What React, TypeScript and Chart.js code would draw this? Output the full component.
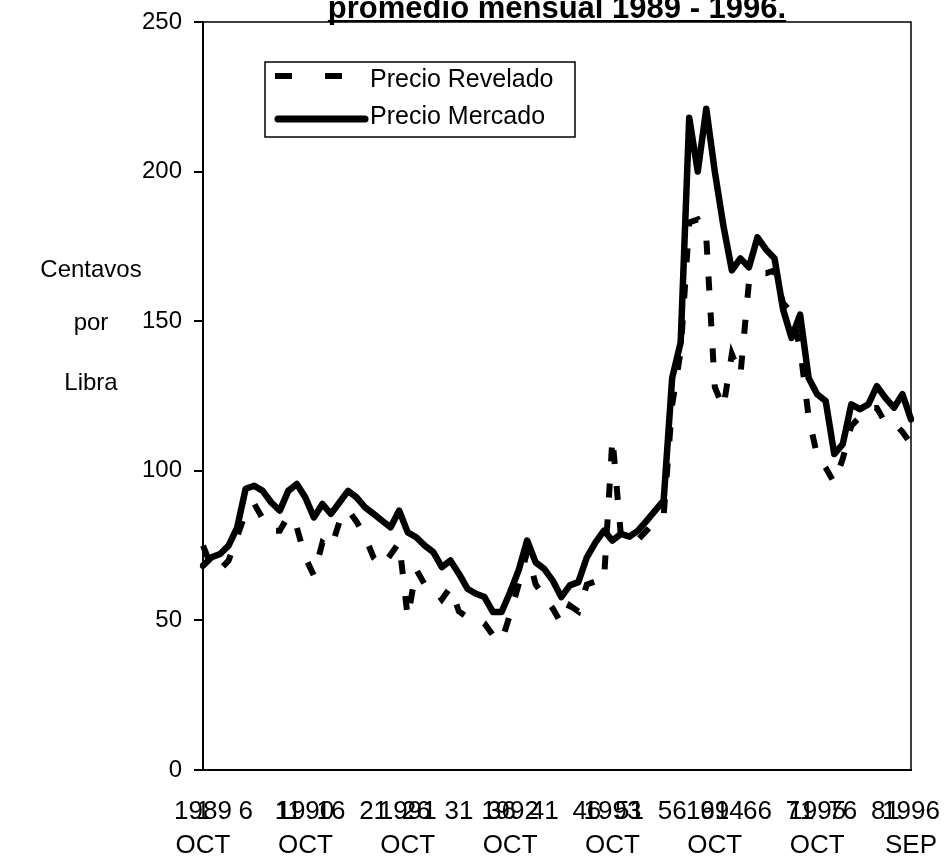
import React, { useEffect, useRef } from 'react';
import { Chart, registerables } from 'chart.js';

Chart.register(...registerables);

const FONT = '"Liberation Sans", Arial, Helvetica, sans-serif';

// Categories: monthly, Oct 1989 .. Sep 1996 (84 months)
const monthNames = ['OCT', 'NOV', 'DIC', 'ENE', 'FEB', 'MAR', 'ABR', 'MAY', 'JUN', 'JUL', 'AGO', 'SEP'];
const startYear = 1989;
const monthCount = 84;
const categories: string[] = Array.from({ length: monthCount }, (_, k) =>
  `${monthNames[k % 12]} ${startYear + Math.floor((k + 9) / 12)}`
);

// Tick labels on the category axis
const yearTickIndex = [0, 12, 24, 36, 48, 60, 72, 83];
const yearTickLabels = ['1989', '1990', '1991', '1992', '1993', '1994', '1995', '1996'];
const yearTickMonths = ['OCT', 'OCT', 'OCT', 'OCT', 'OCT', 'OCT', 'OCT', 'SEP'];
const numberTickIndex = [0, 5, 10, 15, 20, 25, 30, 35, 40, 45, 50, 55, 60, 65, 70, 75, 80];
const numberTickLabels = ['1', '6', '11', '16', '21', '26', '31', '36', '41', '46', '51', '56', '61', '66', '71', '76', '81'];

// Series (cents per pound)
const precioRevelado = [
  75, 68, 67, 70, 78, 86, 89, 84, 80, 80,
  85, 81, 71, 65, 76, 74, 83, 87, 83, 78,
  71, 68, 72, 76, 51, 67, 62, 61, 57, 61,
  53, 51, 51, 49, 45, 43, 52, 62, 73, 62,
  58, 54, 49, 55, 53, 62, 63, 63, 111, 78,
  76, 77, 80, 83, 85, 122, 140, 183, 184, 178,
  128, 121, 139, 132, 163, 166, 166, 167, 156, 153,
  141, 118, 105, 101, 96, 104, 115, 118, 121, 121,
  116, 116, 113, 109,
];
const precioMercado = [
  68.3, 71.1, 72.2, 75, 81, 94, 95, 93.3, 89.4, 86.7,
  93.3, 95.6, 91.1, 84.4, 88.9, 85.6, 89.4, 93.3, 91.1, 87.8,
  85.6, 83.3, 81.1, 86.7, 79.4, 77.8, 75, 72.8, 67.8, 70,
  65.6, 60.6, 58.9, 57.8, 52.8, 52.8, 59.4, 66.7, 76.7, 69.4,
  67.2, 63.3, 57.8, 61.7, 62.8, 71.1, 76, 80, 76.7, 78.9,
  78, 80, 83.3, 86.7, 90, 131, 143, 218, 200, 221,
  200, 182, 167, 171, 168, 178, 174, 171, 154, 144.4,
  152.2, 131, 125.6, 123.3, 105.6, 108.9, 122.2, 120.6, 122.2, 128.3,
  124.4, 121.1, 125.6, 117.2,
];

const seriesNames = ['Precio Revelado', 'Precio Mercado'];
const titleText = 'promedio mensual 1989 - 1996.';
const yTitleLines = ['Centavos', 'por', 'Libra'];

const X_FONT_SIZE = 26;
const X_LINE_HEIGHT = 1.3;
const X_PAD = 25;

const decorPlugin = {
  id: 'decor',
  afterDraw(chart: any) {
    const { ctx, chartArea: ca, scales } = chart;
    ctx.save();
    // plot frame (top and right)
    ctx.strokeStyle = '#000';
    ctx.lineWidth = 1.5;
    ctx.beginPath();
    ctx.moveTo(ca.left, ca.top);
    ctx.lineTo(ca.right, ca.top);
    ctx.lineTo(ca.right, ca.bottom);
    ctx.stroke();

    // title (top clipped like the scan)
    ctx.fillStyle = '#000';
    ctx.font = `bold 31px ${FONT}`;
    ctx.textAlign = 'center';
    ctx.textBaseline = 'alphabetic';
    const cx = (ca.left + ca.right) / 2;
    ctx.fillText(titleText, cx, 18);
    const tw = ctx.measureText(titleText).width;
    ctx.fillRect(cx - tw / 2, 20, tw, 2);

    // y axis title, horizontal, three lines
    ctx.font = `24px ${FONT}`;
    const yb = [277, 330, 390];
    yTitleLines.forEach((t, i) => ctx.fillText(t, 91, yb[i]));

    // overlapping number labels where a year label also sits
    const xs = scales.x;
    ctx.font = `${X_FONT_SIZE}px ${FONT}`;
    ctx.textBaseline = 'middle';
    const ly = xs.top + X_PAD + (X_FONT_SIZE * X_LINE_HEIGHT) / 2;
    numberTickIndex.forEach((idx, n) => {
      if (yearTickIndex.indexOf(idx) >= 0) {
        ctx.fillText(numberTickLabels[n], xs.getPixelForValue(idx), ly);
      }
    });

    // legend
    const lx = 265, ly0 = 62, lw = 310, lh = 75;
    ctx.fillStyle = '#fff';
    ctx.fillRect(lx, ly0, lw, lh);
    ctx.strokeStyle = '#000';
    ctx.lineWidth = 1.5;
    ctx.strokeRect(lx, ly0, lw, lh);
    const ds = chart.data.datasets;
    // row 1: dashed
    ctx.lineWidth = 6;
    ctx.setLineDash([17, 33]);
    ctx.lineCap = 'butt';
    ctx.beginPath();
    ctx.moveTo(275, 76);
    ctx.lineTo(367, 76);
    ctx.stroke();
    ctx.setLineDash([]);
    // row 2: solid
    ctx.lineWidth = 7;
    ctx.lineCap = 'round';
    ctx.beginPath();
    ctx.moveTo(278, 119);
    ctx.lineTo(365, 119);
    ctx.stroke();
    ctx.fillStyle = '#000';
    ctx.font = `25px ${FONT}`;
    ctx.textAlign = 'left';
    ctx.textBaseline = 'middle';
    ctx.fillText(ds[0].label, 370, 80);
    ctx.fillText(ds[1].label, 370, 117);
    ctx.restore();
  },
};

export default function App() {
  const ref = useRef<HTMLCanvasElement | null>(null);

  useEffect(() => {
    document.body.style.margin = '0';
    if (!ref.current) return;
    const chart = new Chart(ref.current, {
      type: 'line',
      data: {
        labels: categories,
        datasets: [
          {
            label: seriesNames[0],
            data: precioRevelado,
            borderColor: '#000',
            borderWidth: 6,
            borderDash: [14, 22],
            borderCapStyle: 'butt',
            borderJoinStyle: 'miter',
            pointRadius: 0,
            tension: 0,
            fill: false,
          },
          {
            label: seriesNames[1],
            data: precioMercado,
            borderColor: '#000',
            borderWidth: 6.5,
            borderJoinStyle: 'round',
            borderCapStyle: 'round',
            pointRadius: 0,
            tension: 0,
            fill: false,
          },
        ],
      },
      options: {
        animation: false,
        responsive: false,
        maintainAspectRatio: false,
        layout: { padding: { left: 0, right: 40, top: 22, bottom: 0 } },
        plugins: {
          legend: { display: false },
          title: { display: false },
          tooltip: { enabled: false },
        },
        scales: {
          x: {
            type: 'category',
            offset: false,
            grid: { display: false, drawTicks: false },
            border: { display: true, color: '#000', width: 2 },
            ticks: {
              autoSkip: false,
              maxRotation: 0,
              minRotation: 0,
              padding: X_PAD,
              color: '#000',
              font: { family: FONT, size: X_FONT_SIZE, lineHeight: X_LINE_HEIGHT },
              callback: (_v: any, index: number) => {
                const k = yearTickIndex.indexOf(index);
                if (k >= 0) return [yearTickLabels[k], yearTickMonths[k]];
                const n = numberTickIndex.indexOf(index);
                if (n >= 0) return numberTickLabels[n];
                return '';
              },
            },
            afterFit: (s: any) => {
              s.height = 87;
              s.paddingLeft = 0;
              s.paddingRight = 0;
            },
          },
          y: {
            min: 0,
            max: 250,
            ticks: { stepSize: 50, padding: 12, color: '#000', font: { family: FONT, size: 24 } },
            grid: { display: true, drawOnChartArea: false, drawTicks: true, tickLength: 9, color: '#000', lineWidth: 2 },
            border: { display: true, color: '#000', width: 2 },
            afterFit: (s: any) => {
              s.width = 203;
              s.paddingTop = 0;
              s.paddingBottom = 0;
            },
          },
        },
      },
      plugins: [decorPlugin],
    } as any);
    return () => chart.destroy();
  }, []);

  return (
    <div style={{ width: 951, height: 857, background: '#fff' }}>
      <canvas ref={ref} width={951} height={857} style={{ display: 'block' }} />
    </div>
  );
}
